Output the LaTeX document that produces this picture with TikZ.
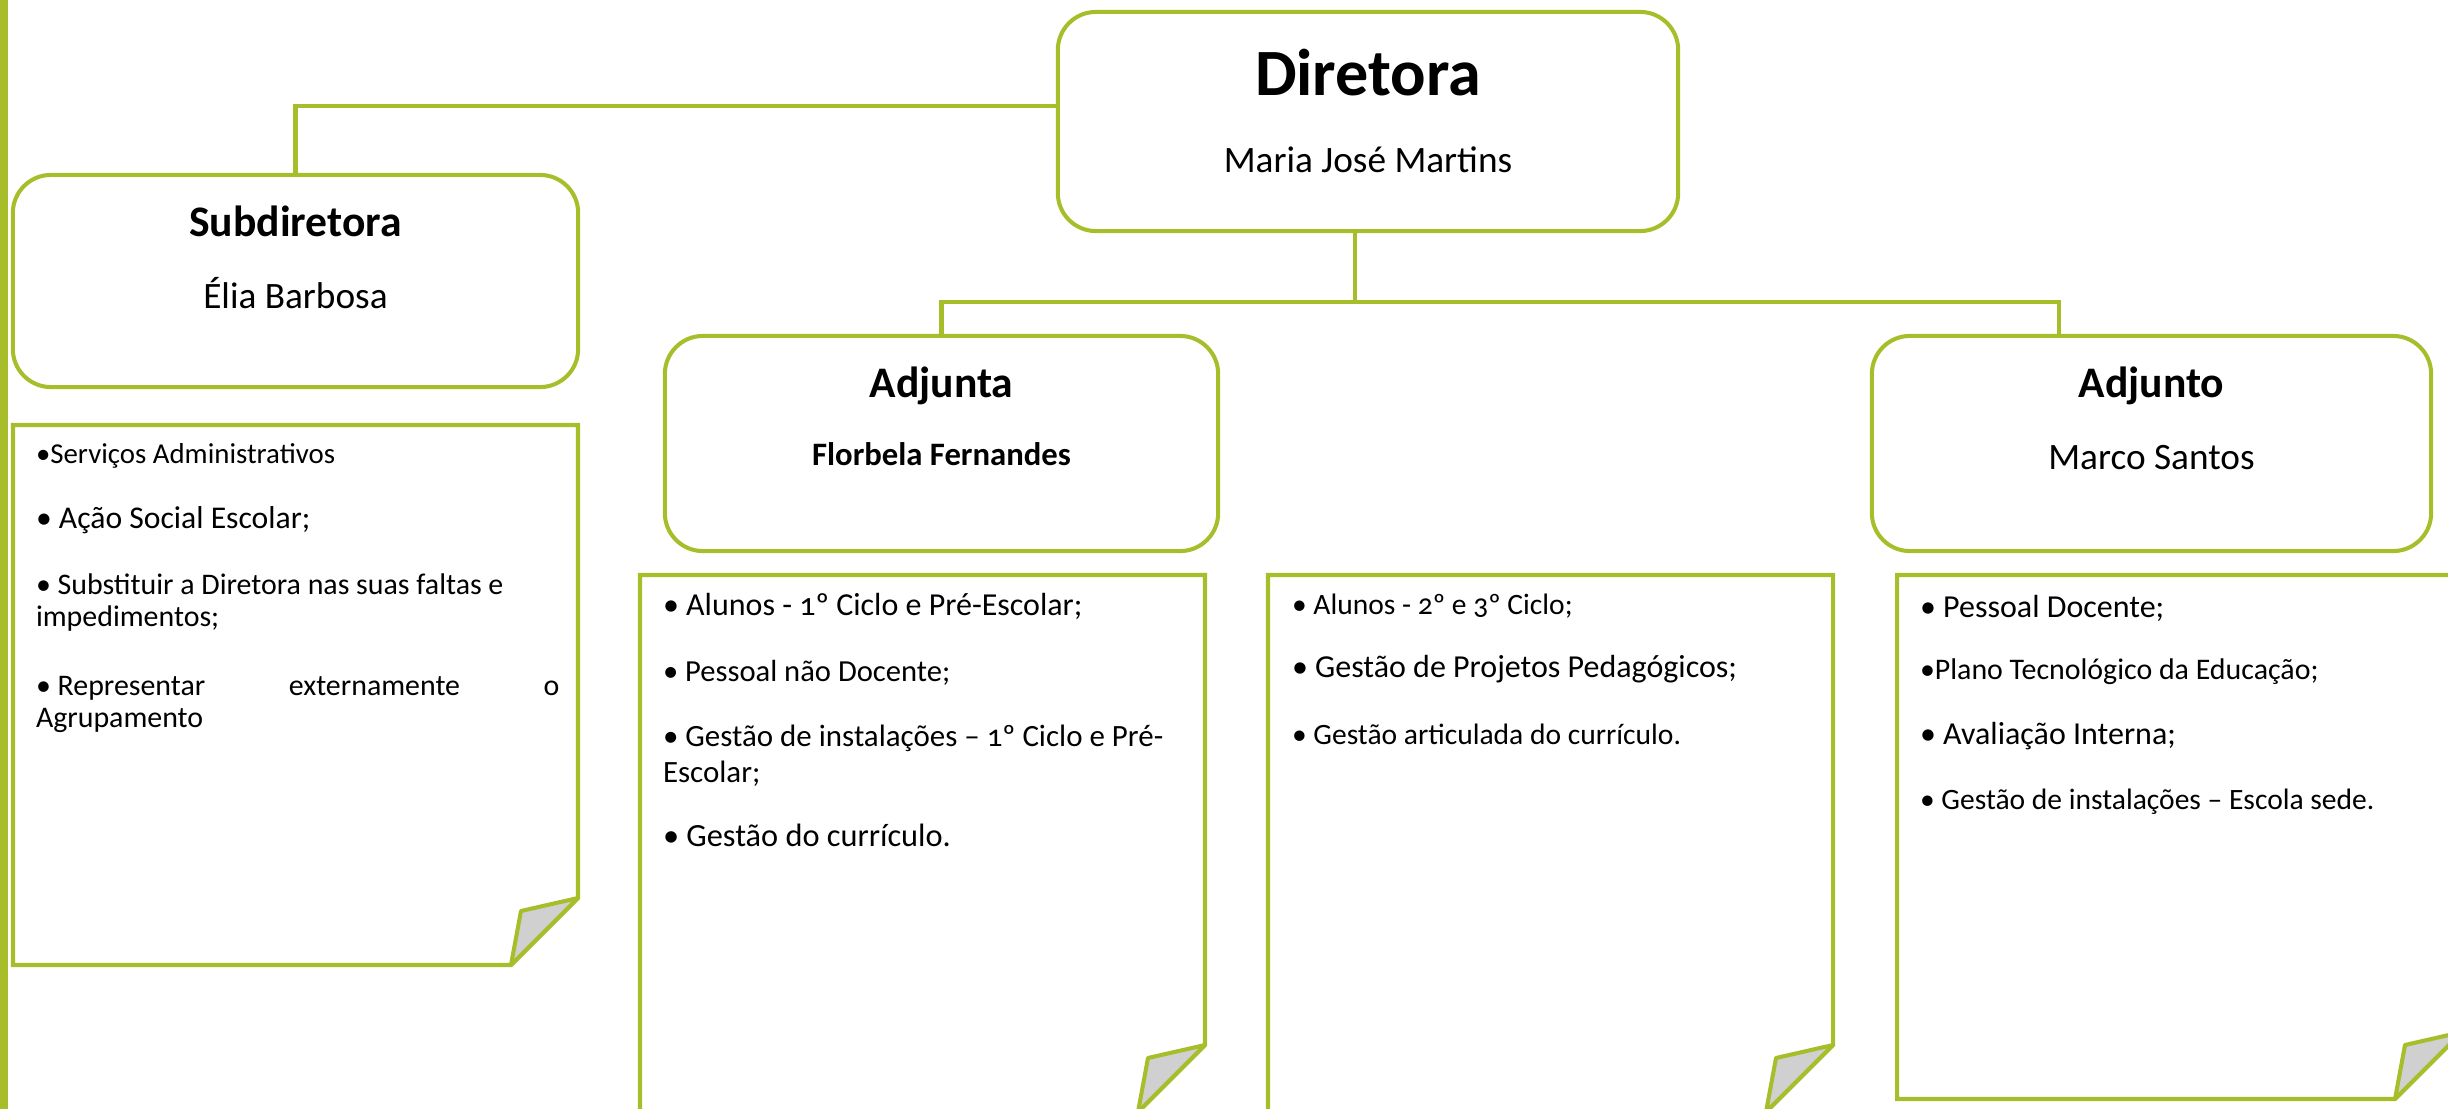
\documentclass[tikz,border=0pt]{standalone}
\usepackage{fontspec}
\setmainfont{Carlito}[Numbers=OldStyle]
\usepackage{tikz}
\usetikzlibrary{positioning}
\definecolor{orggreen}{RGB}{168,189,42}
\definecolor{foldgray}{RGB}{208,208,208}
\newcommand{\sz}[1]{\fontsize{#1}{#1}\selectfont}

\begin{document}
\begin{tikzpicture}[x=0.01cm,y=-0.01cm,line width=1.15pt,
  role/.style={draw=orggreen,fill=white,rounded corners=0.38cm,inner sep=0pt},
  link/.style={draw=orggreen},
  note/.style={draw=orggreen,fill=white,line join=miter},
  fold/.style={draw=orggreen,fill=foldgray,line join=round},
  head/.style={anchor=base,inner sep=0pt,font=\bfseries\sz{12.4}},
  who/.style={anchor=base,inner sep=0pt,font=\sz{10.6}},
  item/.style={anchor=base west,inner sep=0pt}]
  \useasboundingbox (0,0) rectangle (2448,1109);
  \fill[orggreen] (0,0) rectangle (8,1109);

  % cargos
  \node[role,minimum width=6.2cm,minimum height=2.19cm] (dir) at (1368,121.5) {};
  \node[role,minimum width=5.65cm,minimum height=2.12cm] (sub) at (295.5,281) {};
  \node[role,minimum width=5.53cm,minimum height=2.15cm] (adja) at (941.5,443.5) {};
  \node[role,minimum width=5.59cm,minimum height=2.15cm] (adjo) at (2151.5,443.5) {};

  \node[head,font=\bfseries\sz{18.8}] (dirt) at (1368,95) {Diretora};
  \node[who] (dirn) at (1368,172) {Maria José Martins};
  \node[head] (subt) at (295.5,236) {Subdiretora};
  \node[who] (subn) at (295.5,308) {Élia Barbosa};
  \node[head] (adjat) at (941.5,397) {Adjunta};
  \node[who,font=\bfseries\sz{9.3}] (adjan) at (941.5,465) {Florbela Fernandes};
  \node[head] (adjot) at (2151.5,397) {Adjunto};
  \node[who] (adjon) at (2151.5,469) {Marco Santos};

  % ligacoes
  \coordinate (jsub) at (295.5,106);
  \coordinate (bus) at (1355,302);
  \coordinate (busr) at (2059,302);
  \draw[link] (dir.west |- jsub) -- (jsub) -- (sub.north);
  \draw[link] (dir.south -| bus) -- (bus);
  \draw[link] (adja.north) |- (busr) -- (busr |- adjo.north);

  % folhas
  \foreach \x/\y/\h in {13/425/540,640/575/537,1268/575/537,1897/575/524}{
    \draw[note] (\x,\y) -- ++(565,0) -- ++(0,\h-67) -- ++(-67,67) -- ++(-498,0) -- cycle;
    \draw[fold] (\x+565,\y+\h-67) -- ++(-57,13) -- ++(-10,54) -- cycle;
  }

  \foreach \y/\fsz/\txt [count=\i] in {463/8.2/{•Serviços Administrativos},
      528/9.0/{• Ação Social Escolar;},594/8.5/{• Substituir a Diretora nas suas faltas e},
      626/8.5/{impedimentos;},695/8.5/{\hbox to 5.23cm{• Representar\hfill externamente\hfill o}},
      727/8.5/{Agrupamento}}
    \node[item,font=\sz{\fsz}] (subi-\i) at (34,\y) {\txt};

  \foreach \y/\fsz/\txt [count=\i] in {615/9.1/{• Alunos - 1º Ciclo e Pré-Escolar;},
      681/8.7/{• Pessoal não Docente;},746/8.8/{• Gestão de instalações – 1º Ciclo e Pré-},
      782/8.8/{Escolar;},846/9.2/{• Gestão do currículo.}}
    \node[item,font=\sz{\fsz}] (adjai-\i) at (661,\y) {\txt};

  \foreach \y/\fsz/\txt [count=\i] in {614/8.4/{• Alunos - 2º e 3º Ciclo;},
      677/9.1/{• Gestão de Projetos Pedagógicos;},744/8.4/{• Gestão articulada do currículo.}}
    \node[item,font=\sz{\fsz}] (midi-\i) at (1290,\y) {\txt};

  \foreach \y/\fsz/\txt [count=\i] in {617/9.1/{• Pessoal Docente;},
      679/8.5/{•Plano Tecnológico da Educação;},744/9.1/{• Avaliação Interna;},
      809/8.4/{• Gestão de instalações – Escola sede.}}
    \node[item,font=\sz{\fsz}] (adjoi-\i) at (1918,\y) {\txt};
\end{tikzpicture}
\end{document}
